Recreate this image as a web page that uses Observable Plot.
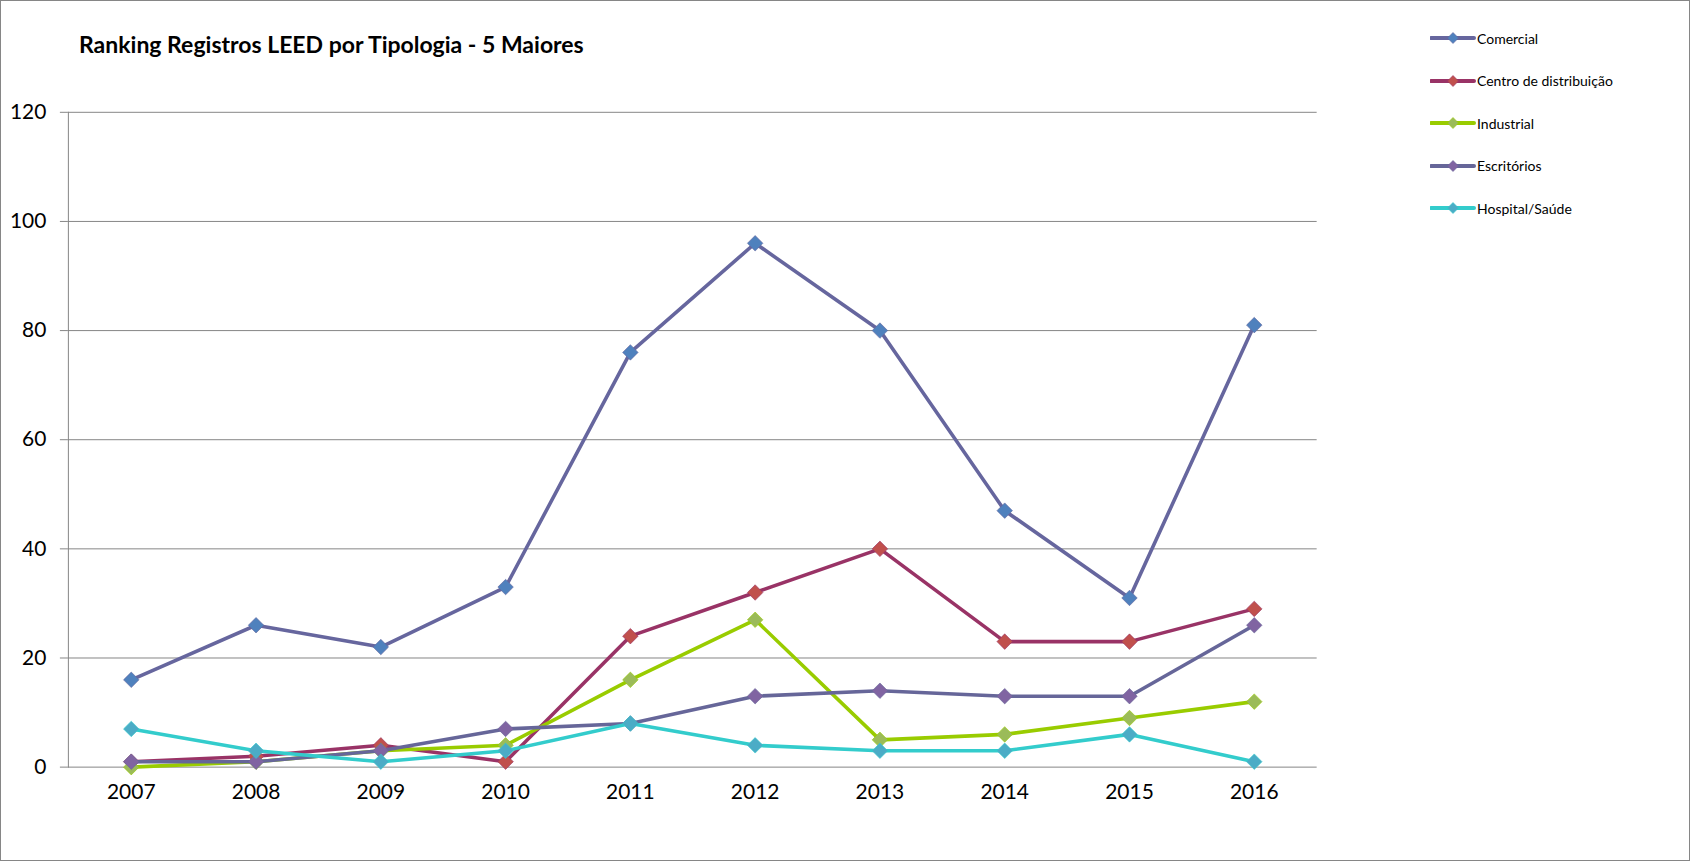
<!DOCTYPE html>
<html>
<head>
<meta charset="utf-8">
<script src="https://cdn.jsdelivr.net/npm/d3@7"></script>
<script src="https://cdn.jsdelivr.net/npm/@observablehq/plot@0.6"></script>
<style>
  html, body { margin: 0; padding: 0; background: #fff; }
  #wrap { position: relative; width: 1690px; height: 861px; border: 1px solid #868686; box-sizing: border-box; overflow: hidden; font-family: Lato, "Open Sans", sans-serif; }
  #title { position: absolute; left: 78px; top: 29px; font-size: 23px; font-weight: bold; color: #000; white-space: nowrap; }
  #legend { position: absolute; left: 1429px; top: 0; }
  .item { position: absolute; left: 0; height: 20px; display: flex; align-items: center; white-space: nowrap; font-size: 14px; color: #000; }
  .item svg { margin-right: 1px; }
  #chart { position: absolute; left: -1px; top: -1px; }
</style>
</head>
<body>
<div id="wrap">
  <div id="chart"></div>
  <div id="title"></div>
  <div id="legend"></div>
</div>
<script>
const title = "Ranking Registros LEED por Tipologia - 5 Maiores";
const years = ["2007","2008","2009","2010","2011","2012","2013","2014","2015","2016"];
const seriesNames = ["Comercial","Centro de distribuição","Industrial","Escritórios","Hospital/Saúde"];
const comercial   = [16, 26, 22, 33, 76, 96, 80, 47, 31, 81];
const centro      = [1, 2, 4, 1, 24, 32, 40, 23, 23, 29];
const industrial  = [0, 1, 3, 4, 16, 27, 5, 6, 9, 12];
const escritorios = [1, 1, 3, 7, 8, 13, 14, 13, 13, 26];
const hospital    = [7, 3, 1, 3, 8, 4, 3, 3, 6, 1];
const yTicks = [0, 20, 40, 60, 80, 100, 120];
const lineColors   = ["#66669E", "#993366", "#99CC00", "#666699", "#33CCCC"];
const markerColors = ["#4F81BD", "#C0504D", "#9BBB59", "#8064A2", "#4BACC6"];

const values = [comercial, centro, industrial, escritorios, hospital];
const series = seriesNames.map((name, i) => ({
  name,
  rows: years.map((year, j) => ({ year, value: values[i][j], name }))
}));

const marks = [
  Plot.gridY(yTicks, { stroke: "#868686", strokeOpacity: 1, strokeWidth: 1 }),
  Plot.frame({ anchor: "left", stroke: "#868686", strokeWidth: 1 }),
  Plot.axisY(yTicks, { tickSize: 8, tickPadding: 14, stroke: "#868686", fill: "#000", fontSize: 21, label: null }),
  Plot.axisX({ tickSize: 0, tickPadding: 17, fill: "#000", fontSize: 21, label: null })
];
series.forEach((s, i) => {
  marks.push(Plot.line(s.rows, { x: "year", y: "value", stroke: lineColors[i], strokeWidth: 3.6, strokeLinejoin: "round", strokeLinecap: "round" }));
  marks.push(Plot.dot(s.rows, { x: "year", y: "value", symbol: "diamond2", r: 7, fill: markerColors[i], stroke: lineColors[i], strokeWidth: 1, strokeOpacity: 0.6 }));
});

const chart = Plot.plot({
  width: 1692,
  height: 862,
  marginTop: 112,
  marginBottom: 94,
  marginLeft: 68,
  marginRight: 373,
  style: { fontFamily: "Lato, 'Open Sans', sans-serif", fontSize: "21px", color: "#000", background: "transparent" },
  x: { type: "point", domain: years, padding: 0.5, axis: null, label: null },
  y: { domain: [0, 120], axis: null, label: null },
  marks
});
document.getElementById("chart").appendChild(chart);
document.getElementById("title").textContent = title;

const legend = document.getElementById("legend");
seriesNames.forEach((name, i) => {
  const item = document.createElement("div");
  item.className = "item";
  item.style.top = (27 + i * 42.5) + "px";
  item.innerHTML = `<svg width="46" height="20"><line x1="1" y1="10" x2="44" y2="10" stroke="${lineColors[i]}" stroke-width="4" stroke-linecap="round"/><path d="M23,4.5 L28.5,10 L23,15.5 L17.5,10 Z" fill="${markerColors[i]}" stroke="${lineColors[i]}" stroke-width="1" stroke-opacity="0.6"/></svg>`;
  const span = document.createElement("span");
  span.textContent = name;
  item.appendChild(span);
  legend.appendChild(item);
});
</script>
</body>
</html>
